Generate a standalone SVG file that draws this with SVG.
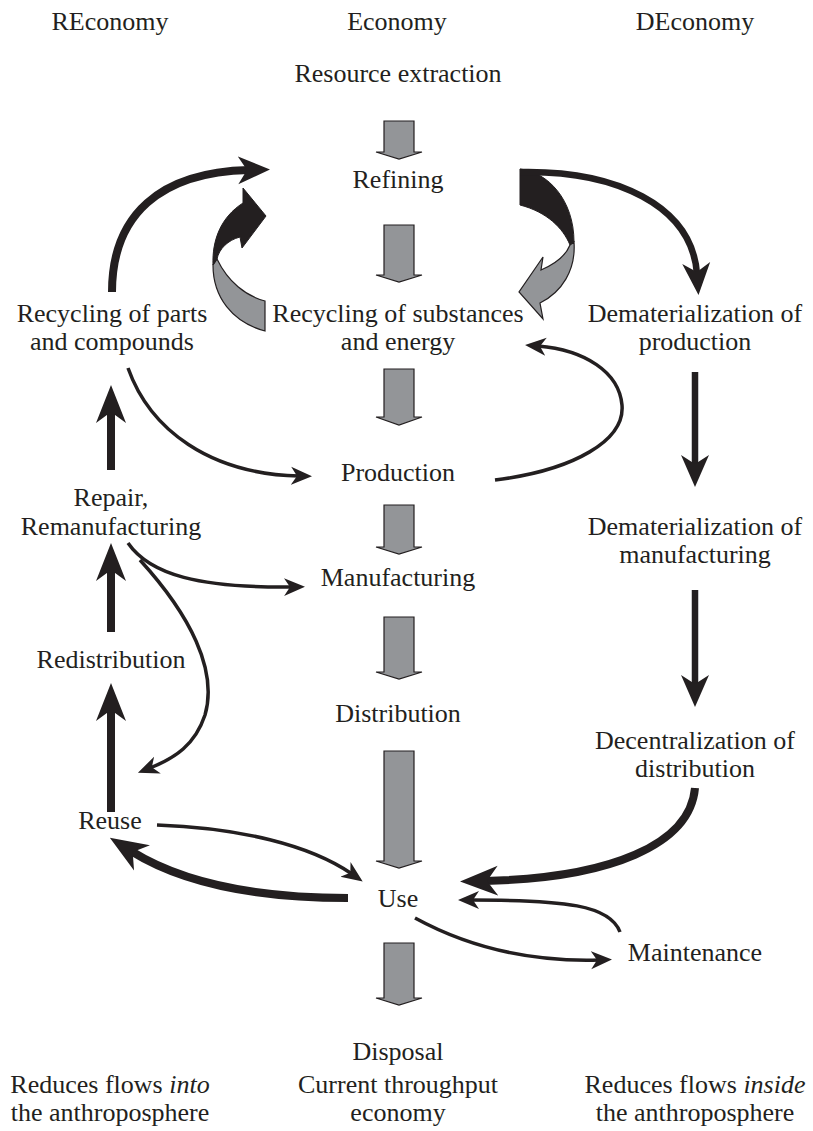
<svg xmlns="http://www.w3.org/2000/svg" width="813" height="1131" viewBox="0 0 813 1131">
<style>
.t{font-family:"Liberation Serif","Times New Roman",serif;font-size:26px;fill:#231f20;text-anchor:middle}
.g{fill:#939598;stroke:#231f20;stroke-width:1.2;stroke-linejoin:miter}
.c{fill:none;stroke:#231f20;stroke-linecap:butt}
.s{stroke-width:3.5}
.m{stroke-width:6.5}
.k{stroke-width:8}
.rb{fill:#231f20;stroke:#231f20;stroke-width:1}
.rg{fill:#939598;stroke:#231f20;stroke-width:1.2}
</style>
<defs>
<marker id="mS" markerUnits="userSpaceOnUse" markerWidth="22" markerHeight="20" viewBox="0 0 22 20" refX="8" refY="10" orient="auto"><path d="M0,1 L21,10 L0,19 L6,10 Z" fill="#231f20"/></marker>
<marker id="mM" markerUnits="userSpaceOnUse" markerWidth="32" markerHeight="30" viewBox="0 0 32 30" refX="11" refY="15" orient="auto"><path d="M0,1 L32,15 L0,29 L9,15 Z" fill="#231f20"/></marker>
<marker id="mL" markerUnits="userSpaceOnUse" markerWidth="38" markerHeight="32" viewBox="0 0 38 32" refX="13" refY="16" orient="auto"><path d="M0,1 L38,16 L0,31 L11,16 Z" fill="#231f20"/></marker>
</defs>
<rect width="813" height="1131" fill="#ffffff"/>

<g id="headers">
<text class="t" x="110" y="30">REconomy</text>
<text class="t" x="397" y="30">Economy</text>
<text class="t" x="695" y="30">DEconomy</text>
</g>

<g id="flow-arrows">
<polygon class="g" points="384,121 414,121 414,152 422,152 399,159 376,152 384,152"/>
<polygon class="g" points="384,225 414,225 414,275 422,275 399,282 376,275 384,275"/>
<polygon class="g" points="384,369 414,369 414,417 422,417 399,425 376,417 384,417"/>
<polygon class="g" points="384,505 414,505 414,547 422,547 399,554 376,547 384,547"/>
<polygon class="g" points="384,617 414,617 414,672 422,672 399,679 376,672 384,672"/>
<polygon class="g" points="384,751 414,751 414,861 422,861 399,868 376,861 384,861"/>
<polygon class="g" points="384,943 414,943 414,998 422,998 399,1005 376,998 384,998"/>
</g>

<g id="ribbons">
<path class="rg" d="M217,259 C228,282 246,296 265,301 L265,331 C232,322 213,297 213,265 Z"/>
<path class="rb" d="M213,265 C212,240 221,217 243,203 L243,188 L266,216 L242,248 L240,237 C228,240 219,249 217,259 Z"/>
<path class="rb" d="M520,169 C548,172 574,200 574,242 L570,245 C563,228 547,212 520,205 Z"/>
<path class="rg" d="M574,242 C576,270 562,292 540,303 L543,319 L519,292 L543,257 L541,270 C555,264 566,255 570,245 Z"/>
</g>

<g id="connectors">
<path class="c k" d="M112,292 C112,215 160,172 249,170" marker-end="url(#mM)"/>
<path class="c m" d="M520,172 C615,170 692,205 697,274" marker-end="url(#mM)"/>
<path class="c k" d="M111,470 L111,410" marker-end="url(#mL)"/>
<path class="c k" d="M111,632 L111,568" marker-end="url(#mL)"/>
<path class="c k" d="M111,812 L111,708" marker-end="url(#mL)"/>
<path class="c m" d="M695,372 L695,466" marker-end="url(#mM)"/>
<path class="c m" d="M695,590 L695,686" marker-end="url(#mM)"/>
<path class="c s" d="M128,368 C150,430 210,474 299,476" marker-end="url(#mS)"/>
<path class="c s" d="M495,480 C575,470 625,440 622,405 C619,372 585,350 538,346" marker-end="url(#mS)"/>
<path class="c s" d="M128,543 C150,575 200,588 292,587" marker-end="url(#mS)"/>
<path class="c s" d="M140,560 C190,615 218,670 205,715 C195,745 175,758 150,768" marker-end="url(#mS)"/>
<path class="c s" d="M157,825 C240,828 310,845 352,874" marker-end="url(#mS)"/>
<path class="c k" d="M348,898 C270,898 190,888 131,851" marker-end="url(#mL)"/>
<path class="c k" d="M695,788 C690,845 610,878 485,881" marker-end="url(#mL)"/>
<path class="c s" d="M620,932 C610,905 565,900 471,900" marker-end="url(#mS)"/>
<path class="c s" d="M415,918 C470,948 530,962 599,960" marker-end="url(#mS)"/>
</g>

<g id="n-resource"><text class="t" x="398" y="82">Resource extraction</text></g>
<g id="n-refining"><text class="t" x="398" y="188">Refining</text></g>
<g id="n-recycling-parts"><text class="t" x="112" y="322">Recycling of parts</text><text class="t" x="112" y="350">and compounds</text></g>
<g id="n-recycling-substances"><text class="t" x="398" y="322">Recycling of substances</text><text class="t" x="398" y="350">and energy</text></g>
<g id="n-demat-production"><text class="t" x="695" y="322">Dematerialization of</text><text class="t" x="695" y="350">production</text></g>
<g id="n-production"><text class="t" x="398" y="481">Production</text></g>
<g id="n-repair"><text class="t" x="111" y="506">Repair,</text><text class="t" x="111" y="535">Remanufacturing</text></g>
<g id="n-demat-manufacturing"><text class="t" x="695" y="535">Dematerialization of</text><text class="t" x="695" y="563">manufacturing</text></g>
<g id="n-manufacturing"><text class="t" x="398" y="586">Manufacturing</text></g>
<g id="n-redistribution"><text class="t" x="111" y="668">Redistribution</text></g>
<g id="n-distribution"><text class="t" x="398" y="722">Distribution</text></g>
<g id="n-decentral"><text class="t" x="695" y="749">Decentralization of</text><text class="t" x="695" y="777">distribution</text></g>
<g id="n-reuse"><text class="t" x="110" y="829">Reuse</text></g>
<g id="n-use"><text class="t" x="398" y="907">Use</text></g>
<g id="n-maintenance"><text class="t" x="695" y="961">Maintenance</text></g>
<g id="n-disposal"><text class="t" x="398" y="1060">Disposal</text></g>

<g id="footers">
<text class="t" x="110" y="1093">Reduces flows <tspan font-style="italic">into</tspan></text>
<text class="t" x="110" y="1121">the anthroposphere</text>
<text class="t" x="398" y="1093">Current throughput</text>
<text class="t" x="398" y="1121">economy</text>
<text class="t" x="695" y="1093">Reduces flows <tspan font-style="italic">inside</tspan></text>
<text class="t" x="695" y="1121">the anthroposphere</text>
</g>
</svg>
